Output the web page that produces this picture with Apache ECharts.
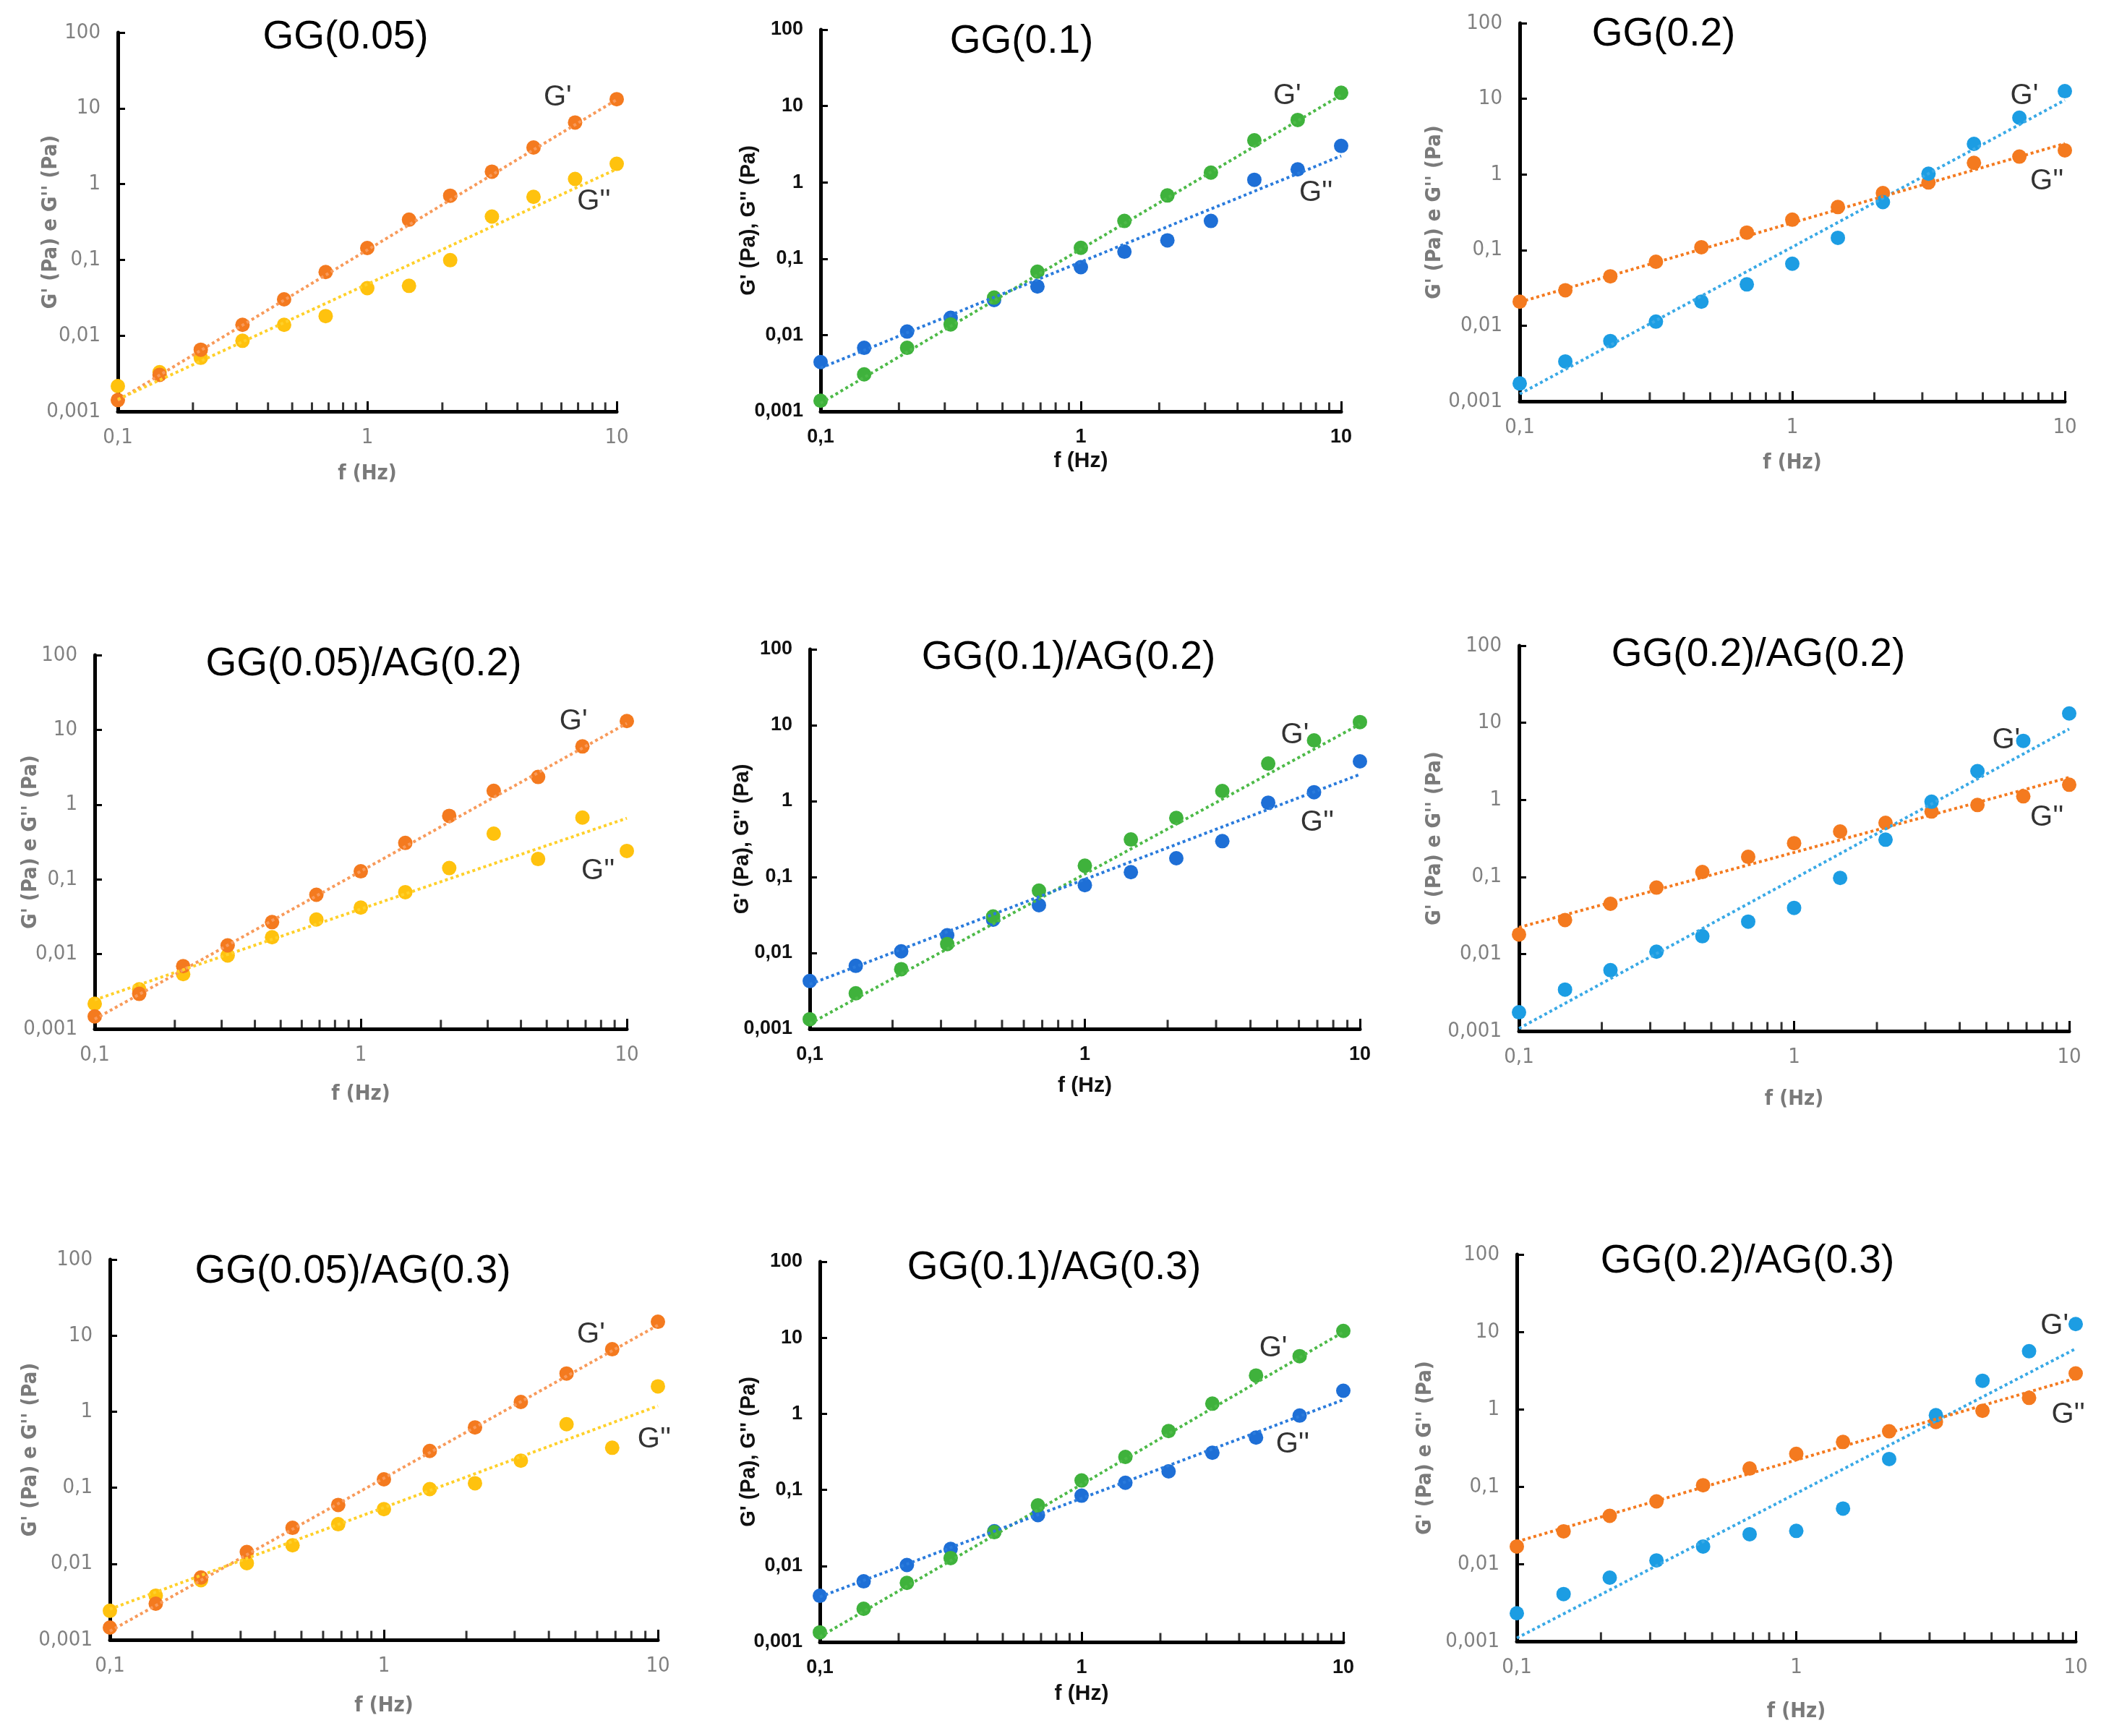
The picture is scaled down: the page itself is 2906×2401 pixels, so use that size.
<!DOCTYPE html>
<html>
<head>
<meta charset="utf-8">
<script src="https://cdn.jsdelivr.net/npm/echarts@6/dist/echarts.min.js"></script>
<style>
html,body{margin:0;padding:0;background:#fff;}
#chart{width:2906px;height:2401px;}
</style>
</head>
<body>
<div id="chart"></div>
<script>
// ---------- DATA ----------
const freq = [0.1, 0.147, 0.215, 0.316, 0.464, 0.681, 1, 1.47, 2.15, 3.16, 4.64, 6.81, 10];
const trendX = [0.1, 10];
const xTickLabels = ['0,1', '1', '10'];
const yTickLabels = ['0,001', '0,01', '0,1', '1', '10', '100'];
const minorTickX = [0.2, 0.3, 0.4, 0.5, 0.6, 0.7, 0.8, 0.9, 2, 3, 4, 5, 6, 7, 8, 9];

const titles = ['GG(0.05)', 'GG(0.1)', 'GG(0.2)',
  'GG(0.05)/AG(0.2)', 'GG(0.1)/AG(0.2)', 'GG(0.2)/AG(0.2)',
  'GG(0.05)/AG(0.3)', 'GG(0.1)/AG(0.3)', 'GG(0.2)/AG(0.3)'];

// GG(0.05)
const gg005_Gp  = [0.00141, 0.00304, 0.00652, 0.0139, 0.0301, 0.069, 0.1435, 0.339, 0.703, 1.46, 3.04, 6.5, 13.2];
const gg005_Gpp = [0.00216, 0.00329, 0.0051, 0.00855, 0.0139, 0.0181, 0.0424, 0.0454, 0.099, 0.373, 0.678, 1.17, 1.85];
const gg005_trendGp  = [0.0014, 13];
const gg005_trendGpp = [0.00144, 1.58];
// GG(0.1)
const gg01_Gp  = [0.00138, 0.00306, 0.0068, 0.0138, 0.031, 0.0676, 0.139, 0.312, 0.673, 1.34, 3.55, 6.56, 14.9];
const gg01_Gpp = [0.00443, 0.0068, 0.0111, 0.0168, 0.0287, 0.0432, 0.0775, 0.1236, 0.174, 0.312, 1.08, 1.48, 3.0];
const gg01_trendGp  = [0.00128, 13.9];
const gg01_trendGpp = [0.0037, 2.22];
// GG(0.2)
const gg02_Gp  = [0.00172, 0.00336, 0.00626, 0.0113, 0.0208, 0.0351, 0.0659, 0.145, 0.43, 1.02, 2.53, 5.62, 12.6];
const gg02_Gpp = [0.0208, 0.0294, 0.0449, 0.070, 0.109, 0.170, 0.252, 0.370, 0.566, 0.783, 1.42, 1.72, 2.08];
const gg02_trendGp  = [0.00125, 9.6];
const gg02_trendGpp = [0.0205, 2.56];
// GG(0.05)/AG(0.2)
const gg005ag02_Gp  = [0.00147, 0.00294, 0.0069, 0.0131, 0.0268, 0.0622, 0.128, 0.307, 0.706, 1.53, 2.34, 6.0, 13.1];
const gg005ag02_Gpp = [0.00217, 0.00338, 0.0054, 0.00958, 0.0168, 0.029, 0.0419, 0.0674, 0.1416, 0.409, 0.187, 0.671, 0.240];
const gg005ag02_trendGp  = [0.00135, 12.2];
const gg005ag02_trendGpp = [0.00244, 0.657];
// GG(0.1)/AG(0.2)
const gg01ag02_Gp  = [0.00134, 0.00294, 0.00612, 0.0131, 0.0303, 0.0662, 0.141, 0.312, 0.601, 1.36, 3.12, 6.31, 11.0];
const gg01ag02_Gpp = [0.00427, 0.00676, 0.0105, 0.0171, 0.0274, 0.0426, 0.0783, 0.116, 0.177, 0.297, 0.953, 1.31, 3.34];
const gg01ag02_trendGp  = [0.00117, 10.3];
const gg01ag02_trendGpp = [0.00387, 2.25];
// GG(0.2)/AG(0.2)
const gg02ag02_Gp  = [0.00175, 0.00345, 0.00616, 0.0107, 0.0170, 0.0263, 0.0396, 0.097, 0.304, 0.944, 2.36, 5.82, 13.2];
const gg02ag02_Gpp = [0.0179, 0.0276, 0.0448, 0.0727, 0.1156, 0.182, 0.274, 0.388, 0.503, 0.706, 0.857, 1.11, 1.57];
const gg02ag02_trendGp  = [0.00108, 8.3];
const gg02ag02_trendGpp = [0.0221, 1.95];
// GG(0.05)/AG(0.3)
const gg005ag03_Gp  = [0.00145, 0.00299, 0.00659, 0.0143, 0.0297, 0.0594, 0.129, 0.304, 0.621, 1.34, 3.17, 6.61, 15.2];
const gg005ag03_Gpp = [0.00241, 0.00381, 0.00609, 0.0102, 0.0175, 0.0331, 0.0524, 0.096, 0.1145, 0.227, 0.684, 0.335, 2.15];
const gg005ag03_trendGp  = [0.0013, 13.7];
const gg005ag03_trendGpp = [0.00253, 1.19];
// GG(0.1)/AG(0.3)
const gg01ag03_Gp  = [0.00134, 0.00274, 0.00598, 0.0127, 0.0278, 0.0626, 0.133, 0.271, 0.593, 1.36, 3.19, 5.73, 12.3];
const gg01ag03_Gpp = [0.00405, 0.00628, 0.0103, 0.0167, 0.0286, 0.0467, 0.084, 0.124, 0.175, 0.308, 0.487, 0.948, 2.01];
const gg01ag03_trendGp  = [0.00117, 11.9];
const gg01ag03_trendGpp = [0.00392, 1.53];
// GG(0.2)/AG(0.3)
const gg02ag03_Gp  = [0.0023, 0.00408, 0.00665, 0.0111, 0.0168, 0.0242, 0.0267, 0.052, 0.227, 0.836, 2.33, 5.61, 12.6];
const gg02ag03_Gpp = [0.0168, 0.0264, 0.0418, 0.0643, 0.104, 0.171, 0.265, 0.377, 0.518, 0.684, 0.955, 1.40, 2.90];
const gg02ag03_trendGp  = [0.0011, 6.05];
const gg02ag03_trendGpp = [0.0194, 2.51];

// ---------- STYLES / LAYOUT ----------
const ORANGE = '#F47A1F', ORANGE_T = '#F89A5A', YELLOW = '#FFC20E', YELLOW_T = '#FFD02A';
const GREEN = '#3FB23C', GREEN_T = '#4DBA48', BLUE = '#1E6FD6', BLUE_T = '#2A7BDC';
const LBLUE = '#1C9DE3', LBLUE_T = '#39A9E6', ORANGE2 = '#F47A1F', ORANGE2_T = '#F47A1F';

const panels = [
  {gp: gg005_Gp, gpp: gg005_Gpp, tgp: gg005_trendGp, tgpp: gg005_trendGpp, cgp: ORANGE, cgpp: YELLOW, tcgp: ORANGE_T, tcgpp: YELLOW_T, bold: false},
  {gp: gg01_Gp, gpp: gg01_Gpp, tgp: gg01_trendGp, tgpp: gg01_trendGpp, cgp: GREEN, cgpp: BLUE, tcgp: GREEN_T, tcgpp: BLUE_T, bold: true},
  {gp: gg02_Gp, gpp: gg02_Gpp, tgp: gg02_trendGp, tgpp: gg02_trendGpp, cgp: LBLUE, cgpp: ORANGE2, tcgp: LBLUE_T, tcgpp: ORANGE2_T, bold: false},
  {gp: gg005ag02_Gp, gpp: gg005ag02_Gpp, tgp: gg005ag02_trendGp, tgpp: gg005ag02_trendGpp, cgp: ORANGE, cgpp: YELLOW, tcgp: ORANGE_T, tcgpp: YELLOW_T, bold: false},
  {gp: gg01ag02_Gp, gpp: gg01ag02_Gpp, tgp: gg01ag02_trendGp, tgpp: gg01ag02_trendGpp, cgp: GREEN, cgpp: BLUE, tcgp: GREEN_T, tcgpp: BLUE_T, bold: true},
  {gp: gg02ag02_Gp, gpp: gg02ag02_Gpp, tgp: gg02ag02_trendGp, tgpp: gg02ag02_trendGpp, cgp: LBLUE, cgpp: ORANGE2, tcgp: LBLUE_T, tcgpp: ORANGE2_T, bold: false},
  {gp: gg005ag03_Gp, gpp: gg005ag03_Gpp, tgp: gg005ag03_trendGp, tgpp: gg005ag03_trendGpp, cgp: ORANGE, cgpp: YELLOW, tcgp: ORANGE_T, tcgpp: YELLOW_T, bold: false},
  {gp: gg01ag03_Gp, gpp: gg01ag03_Gpp, tgp: gg01ag03_trendGp, tgpp: gg01ag03_trendGpp, cgp: GREEN, cgpp: BLUE, tcgp: GREEN_T, tcgpp: BLUE_T, bold: true},
  {gp: gg02ag03_Gp, gpp: gg02ag03_Gpp, tgp: gg02ag03_trendGp, tgpp: gg02ag03_trendGpp, cgp: LBLUE, cgpp: ORANGE2, tcgp: LBLUE_T, tcgpp: ORANGE2_T, bold: false}
];

// plot box (left, top, right, bottom), title centre, y-name gap, x-name gap, annotation anchors (data units)
const layout = [
  {l: 163, t: 45, r: 853, b: 569, tx: 478, ty: 58, yg: 78, xg: 72, a1: [5.8, 13.8], a2: [8.1, 0.58]},
  {l: 1135, t: 41, r: 1855, b: 569, tx: 1413, ty: 64, yg: 85, xg: 54, a1: [6.2, 13.5], a2: [8.0, 0.73]},
  {l: 2102, t: 32, r: 2856, b: 555, tx: 2301, ty: 54, yg: 103, xg: 71, a1: [7.1, 10.9], a2: [8.6, 0.80]},
  {l: 131, t: 906, r: 867, b: 1423, tx: 503, ty: 925, yg: 74, xg: 76, a1: [6.3, 12.8], a2: [7.8, 0.128]},
  {l: 1120, t: 898, r: 1881, b: 1423, tx: 1478, ty: 916, yg: 79, xg: 64, a1: [5.8, 7.4], a2: [7.0, 0.52]},
  {l: 2101, t: 893, r: 2862, b: 1426, tx: 2432, ty: 912, yg: 102, xg: 80, a1: [5.9, 5.9], a2: [8.3, 0.58]},
  {l: 152, t: 1742, r: 910, b: 2268, tx: 488, ty: 1765, yg: 95, xg: 77, a1: [5.7, 10.3], a2: [9.7, 0.43]},
  {l: 1134, t: 1745, r: 1858, b: 2271, tx: 1458, ty: 1760, yg: 84, xg: 57, a1: [5.4, 7.3], a2: [6.4, 0.39]},
  {l: 2098, t: 1735, r: 2871, b: 2270, tx: 2417, ty: 1751, yg: 112, xg: 83, a1: [8.4, 12.0], a2: [9.4, 0.85]}
];

const NARROW = "'Liberation Sans Narrow', 'DejaVu Sans Condensed', 'Liberation Sans', sans-serif";
const ARIAL = "'Liberation Sans', Arial, sans-serif";

function logIdx(v, base) { return Math.round(Math.log10(v)) - base; }

const option = {
  animation: false,
  backgroundColor: '#ffffff',
  title: [], grid: [], xAxis: [], yAxis: [], series: []
};

panels.forEach((p, i) => {
  const L = layout[i];
  const labColor = p.bold ? '#111' : '#808080';
  const nameColor = p.bold ? '#111' : '#7a7a7a';
  const labFont = p.bold ? ARIAL : NARROW;
  const labWeight = p.bold ? 'bold' : 'normal';
  const labSize = p.bold ? 27 : 29;

  option.title.push({
    text: titles[i], left: L.tx, top: L.ty - 34, textAlign: 'center', padding: 0,
    textStyle: {fontSize: 55, fontWeight: 'normal', fontFamily: ARIAL, color: '#000'}
  });
  option.grid.push({left: L.l, top: L.t, width: L.r - L.l, height: L.b - L.t});
  option.xAxis.push({
    type: 'log', logBase: 10, min: 0.1, max: 10, gridIndex: i,
    name: 'f (Hz)', nameLocation: 'middle', nameGap: L.xg,
    nameTextStyle: {fontSize: p.bold ? 30 : 29, fontWeight: 'bold', fontFamily: labFont, color: nameColor},
    axisLine: {show: true, onZero: false, lineStyle: {color: '#000', width: 5}},
    axisTick: {show: true, inside: true, length: 14, lineStyle: {color: '#000', width: 3}},
    axisLabel: {margin: 22, color: labColor, fontSize: labSize, fontFamily: labFont, fontWeight: labWeight,
      formatter: v => xTickLabels[logIdx(v, -1)]},
    splitLine: {show: false}
  });
  option.yAxis.push({
    type: 'log', logBase: 10, min: 0.001, max: 100, gridIndex: i,
    name: p.bold ? "G' (Pa), G'' (Pa)" : "G' (Pa) e G'' (Pa)",
    nameLocation: 'middle', nameGap: L.yg, nameRotate: 90, nameMoveOverlap: false,
    nameTextStyle: {fontSize: 29, fontWeight: 'bold', fontFamily: labFont, color: nameColor},
    axisLine: {show: true, onZero: false, lineStyle: {color: '#000', width: 5}},
    axisTick: {show: true, inside: true, length: 10, lineStyle: {color: '#000', width: 3}},
    axisLabel: {margin: 24, color: labColor, fontSize: labSize, fontFamily: labFont, fontWeight: labWeight,
      formatter: v => yTickLabels[logIdx(v, -3)]},
    splitLine: {show: false}
  });

  const ax = {xAxisIndex: i, yAxisIndex: i};
  // minor ticks on the x axis
  option.series.push(Object.assign({
    type: 'scatter', silent: true, clip: false, symbol: 'rect', symbolSize: [3, 13], symbolOffset: [0, -6],
    itemStyle: {color: '#000'}, data: minorTickX.map(x => [x, 0.001]), z: 1
  }, ax));
  // data points
  option.series.push(Object.assign({
    type: 'scatter', symbolSize: 20, itemStyle: {color: p.cgpp, opacity: 1},
    data: freq.map((f, k) => [f, p.gpp[k]]), z: 2
  }, ax));
  option.series.push(Object.assign({
    type: 'scatter', symbolSize: 20, itemStyle: {color: p.cgp, opacity: 1},
    data: freq.map((f, k) => [f, p.gp[k]]), z: 2
  }, ax));
  // power-law trendlines
  option.series.push(Object.assign({
    type: 'line', showSymbol: false, symbol: 'none', silent: true,
    lineStyle: {color: p.tcgp, width: 4, type: [4, 4]},
    data: trendX.map((x, k) => [x, p.tgp[k]]), z: 3
  }, ax));
  option.series.push(Object.assign({
    type: 'line', showSymbol: false, symbol: 'none', silent: true,
    lineStyle: {color: p.tcgpp, width: 4, type: [4, 4]},
    data: trendX.map((x, k) => [x, p.tgpp[k]]), z: 3
  }, ax));
  // G' / G'' annotations
  option.series.push(Object.assign({
    type: 'scatter', silent: true, symbolSize: 1, itemStyle: {color: 'rgba(0,0,0,0)'},
    label: {show: true, position: 'inside', fontSize: 40, fontFamily: ARIAL, color: '#000',
      formatter: prm => prm.dataIndex === 0 ? "G'" : "G''"},
    data: [L.a1, L.a2], z: 4
  }, ax));
});

const chart = echarts.init(document.getElementById('chart'), null, {renderer: 'canvas', width: 2906, height: 2401});
chart.setOption(option);
</script>
</body>
</html>
